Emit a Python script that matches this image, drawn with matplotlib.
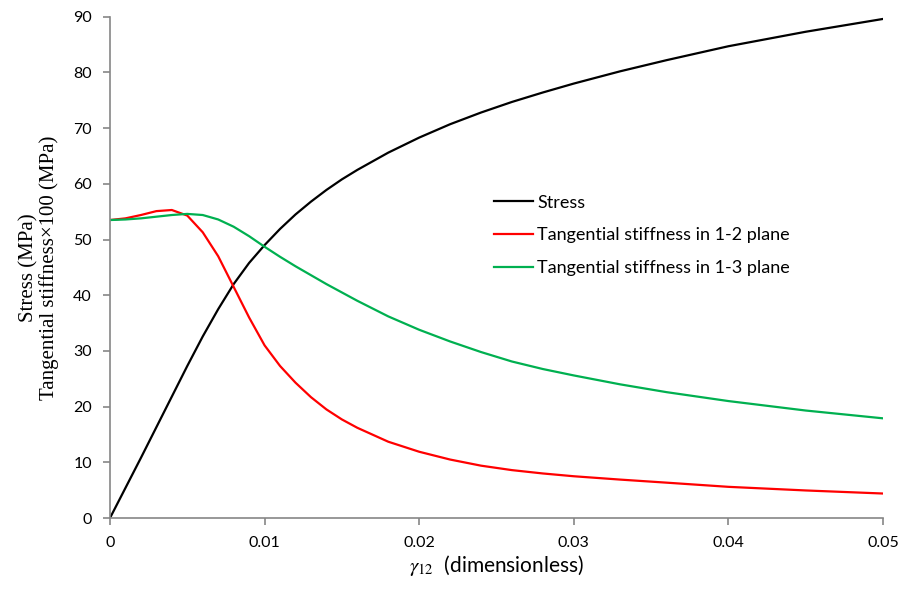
#!/usr/bin/env python3
"""Stress and tangential stiffness vs shear strain gamma_12."""
import matplotlib

matplotlib.use("Agg")
import matplotlib.pyplot as plt

plt.rcParams["mathtext.fontset"] = "stix"

# strain grid (dimensionless)
STRAIN = [0.000, 0.001, 0.002, 0.003, 0.004, 0.005, 0.006, 0.007, 0.008,
          0.009, 0.010, 0.011, 0.012, 0.013, 0.014, 0.015, 0.016, 0.018,
          0.020, 0.022, 0.024, 0.026, 0.028, 0.030, 0.033, 0.036, 0.040,
          0.045, 0.050]

# shear stress, MPa
STRESS = [0.0, 5.4, 10.8, 16.3, 21.8, 27.3, 32.6, 37.5, 42.0,
          45.8, 49.0, 51.9, 54.5, 56.8, 58.9, 60.8, 62.5, 65.6,
          68.3, 70.7, 72.8, 74.7, 76.4, 78.0, 80.2, 82.2, 84.7,
          87.3, 89.6]

# tangential stiffness x100, MPa
STIFF_12 = [53.5, 53.8, 54.4, 55.1, 55.3, 54.3, 51.3, 47.0, 41.5,
            36.0, 31.0, 27.3, 24.3, 21.7, 19.5, 17.7, 16.2, 13.7,
            11.9, 10.5, 9.4, 8.6, 8.0, 7.5, 6.9, 6.35, 5.6,
            4.95, 4.4]
STIFF_13 = [53.5, 53.6, 53.8, 54.1, 54.4, 54.6, 54.4, 53.6, 52.3,
            50.6, 48.7, 46.9, 45.2, 43.6, 42.0, 40.5, 39.0, 36.2,
            33.8, 31.7, 29.8, 28.1, 26.75, 25.6, 24.0, 22.6, 21.0,
            19.3, 17.9]

SANS = "Lato"
SERIF = "Liberation Serif"
GREY = "#868686"


def main():
    fig = plt.figure(figsize=(9.03, 5.89), dpi=100)
    ax = fig.add_axes([0.1218, 0.1205, 0.8560, 0.8511])

    ax.plot(STRAIN, STRESS, color="black", lw=1.6, label="Stress")
    ax.plot(STRAIN, STIFF_12, color="#FF0000", lw=1.6,
            label="Tangential stiffness in 1-2 plane")
    ax.plot(STRAIN, STIFF_13, color="#00B050", lw=1.6,
            label="Tangential stiffness in 1-3 plane")

    ax.set_xlim(0, 0.05)
    ax.set_ylim(0, 90)
    ax.set_xticks([0, 0.01, 0.02, 0.03, 0.04, 0.05])
    ax.set_xticklabels(["0", "0.01", "0.02", "0.03", "0.04", "0.05"])
    ax.set_yticks(range(0, 91, 10))

    for side in ("top", "right"):
        ax.spines[side].set_visible(False)
    for side in ("left", "bottom"):
        ax.spines[side].set_color(GREY)
        ax.spines[side].set_linewidth(1.2)
    ax.tick_params(direction="out", length=5, width=1.2, color=GREY,
                   labelsize=11.5, pad=8)
    for lab in ax.get_xticklabels() + ax.get_yticklabels():
        lab.set_family(SANS)

    ax.set_xlabel(r"$\gamma_{12}$  (dimensionless)", family=SANS,
                  fontsize=15, labelpad=2)
    ax.set_ylabel("Stress (MPa)\nTangential stiffness×100 (MPa)",
                  family=SERIF, fontsize=15, labelpad=10, linespacing=1.05)

    leg = ax.legend(loc="upper left", bbox_to_anchor=(0.497, 0.645),
                    frameon=False, prop={"family": SANS, "size": 13},
                    handlelength=2.15, handletextpad=0.25, labelspacing=0.92,
                    borderpad=0, borderaxespad=0)
    for h in leg.get_lines():
        h.set_linewidth(1.6)

    fig.savefig("out.png", dpi=100)
    plt.close(fig)


if __name__ == "__main__":
    main()
